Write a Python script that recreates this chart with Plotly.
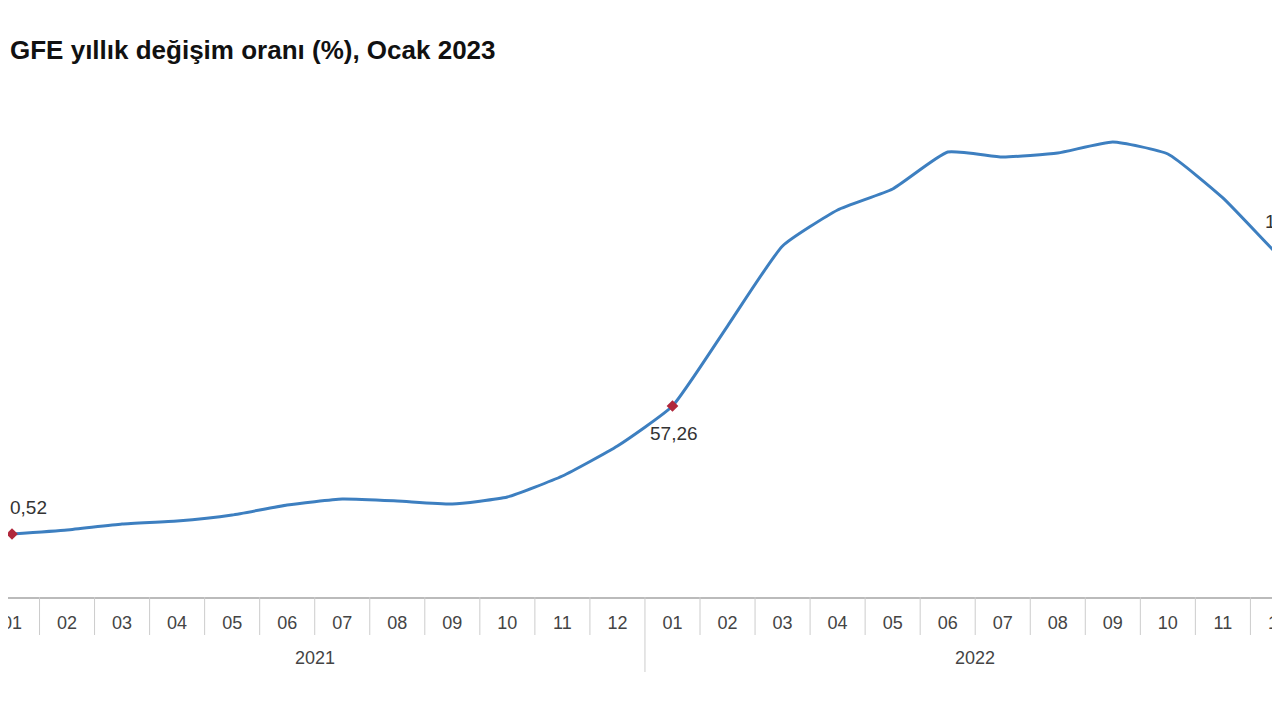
import plotly.graph_objects as go

# ---- data ----
years = ["2021"] * 12 + ["2022"] * 12 + ["2023"]
months = ["01", "02", "03", "04", "05", "06", "07", "08", "09", "10", "11", "12",
          "01", "02", "03", "04", "05", "06", "07", "08", "09", "10", "11", "12",
          "01"]
values = [20.52, 21.67, 23.39, 24.26, 25.98, 28.85, 30.57, 30.00, 29.13, 31.15, 37.17, 45.78,
          57.26, 80.20, 103.18, 113.51, 119.54, 130.16, 128.72, 129.87, 133.03, 129.58, 116.96, 100.60,
          86.00]
label_idx = [0, 12, 23]
label_text = ["0,52", "57,26", "1"]
title_text = "GFE yıllık değişim oranı (%), Ocak 2023"

idx = list(range(len(values)))

LINE = "#3d7fc0"
MARK = "#b0283c"
FONT = "Liberation Sans, Arial, sans-serif"

fig = go.Figure()
fig.add_trace(go.Scatter(
    x=idx, y=values, mode="lines",
    line=dict(color=LINE, width=3, shape="spline", smoothing=0.45),
    hoverinfo="skip", showlegend=False,
))
fig.add_trace(go.Scatter(
    x=[idx[0], idx[12]], y=[values[0], values[12]], mode="markers",
    marker=dict(color=MARK, size=9, symbol="diamond"),
    cliponaxis=False, hoverinfo="skip", showlegend=False,
))

# data labels
ann = []
lab_font = dict(family=FONT, size=19, color="#333333")
ann.append(dict(x=idx[label_idx[0]], y=values[label_idx[0]], xref="x", yref="y", text=label_text[0],
                showarrow=False, xanchor="left", yanchor="middle", xshift=-4, yshift=27,
                font=lab_font))
ann.append(dict(x=idx[label_idx[1]], y=values[label_idx[1]], xref="x", yref="y", text=label_text[1],
                showarrow=False, xanchor="center", yanchor="middle", xshift=2, yshift=-28,
                font=lab_font))
ann.append(dict(x=idx[label_idx[2]], y=values[label_idx[2]], xref="x", yref="y", text=label_text[2],
                showarrow=False, xanchor="right", yanchor="middle", xshift=0, yshift=33,
                font=lab_font))

# year labels under the month labels
for yr in ["2021", "2022"]:
    pos = [i for i in idx if years[i] == yr]
    ann.append(dict(x=sum(pos) / len(pos), y=-0.118, xref="x", yref="paper", text=yr,
                    showarrow=False, xanchor="center", yanchor="middle",
                    font=dict(family=FONT, size=18, color="#444444")))

# title
ann.append(dict(x=0, y=1, xref="paper", yref="paper", text=title_text, showarrow=False,
                xanchor="left", yanchor="middle", xshift=0, yshift=30,
                font=dict(family=FONT, size=26, color="#111111", weight="bold")))

# category dividers
shapes = []
plot_h = 517
for i in idx[:-1]:
    year_break = years[i] != years[i + 1]
    depth = (75 if year_break else 38) / plot_h
    shapes.append(dict(type="line", xref="x", yref="paper", x0=i + 0.5, x1=i + 0.5,
                       y0=0, y1=-depth, line=dict(color="#cccccc", width=1)))

fig.update_layout(
    width=1280, height=720,
    margin=dict(l=0, r=0, t=72, b=131, autoexpand=False),
    paper_bgcolor="white", plot_bgcolor="white",
    annotations=ann, shapes=shapes,
    xaxis=dict(range=[-0.0727, 23.183], tickvals=idx, ticktext=months, automargin=False,
               showgrid=False, zeroline=False, showline=True, linecolor="#bbbbbb", linewidth=2,
               ticks="", ticklabelstandoff=8, ticklabeloverflow="allow",
               tickfont=dict(family=FONT, size=18, color="#444444")),
    yaxis=dict(range=[2.44, 150.82], visible=False, showgrid=False, zeroline=False,
               automargin=False),
)

fig.write_html("out.html")
